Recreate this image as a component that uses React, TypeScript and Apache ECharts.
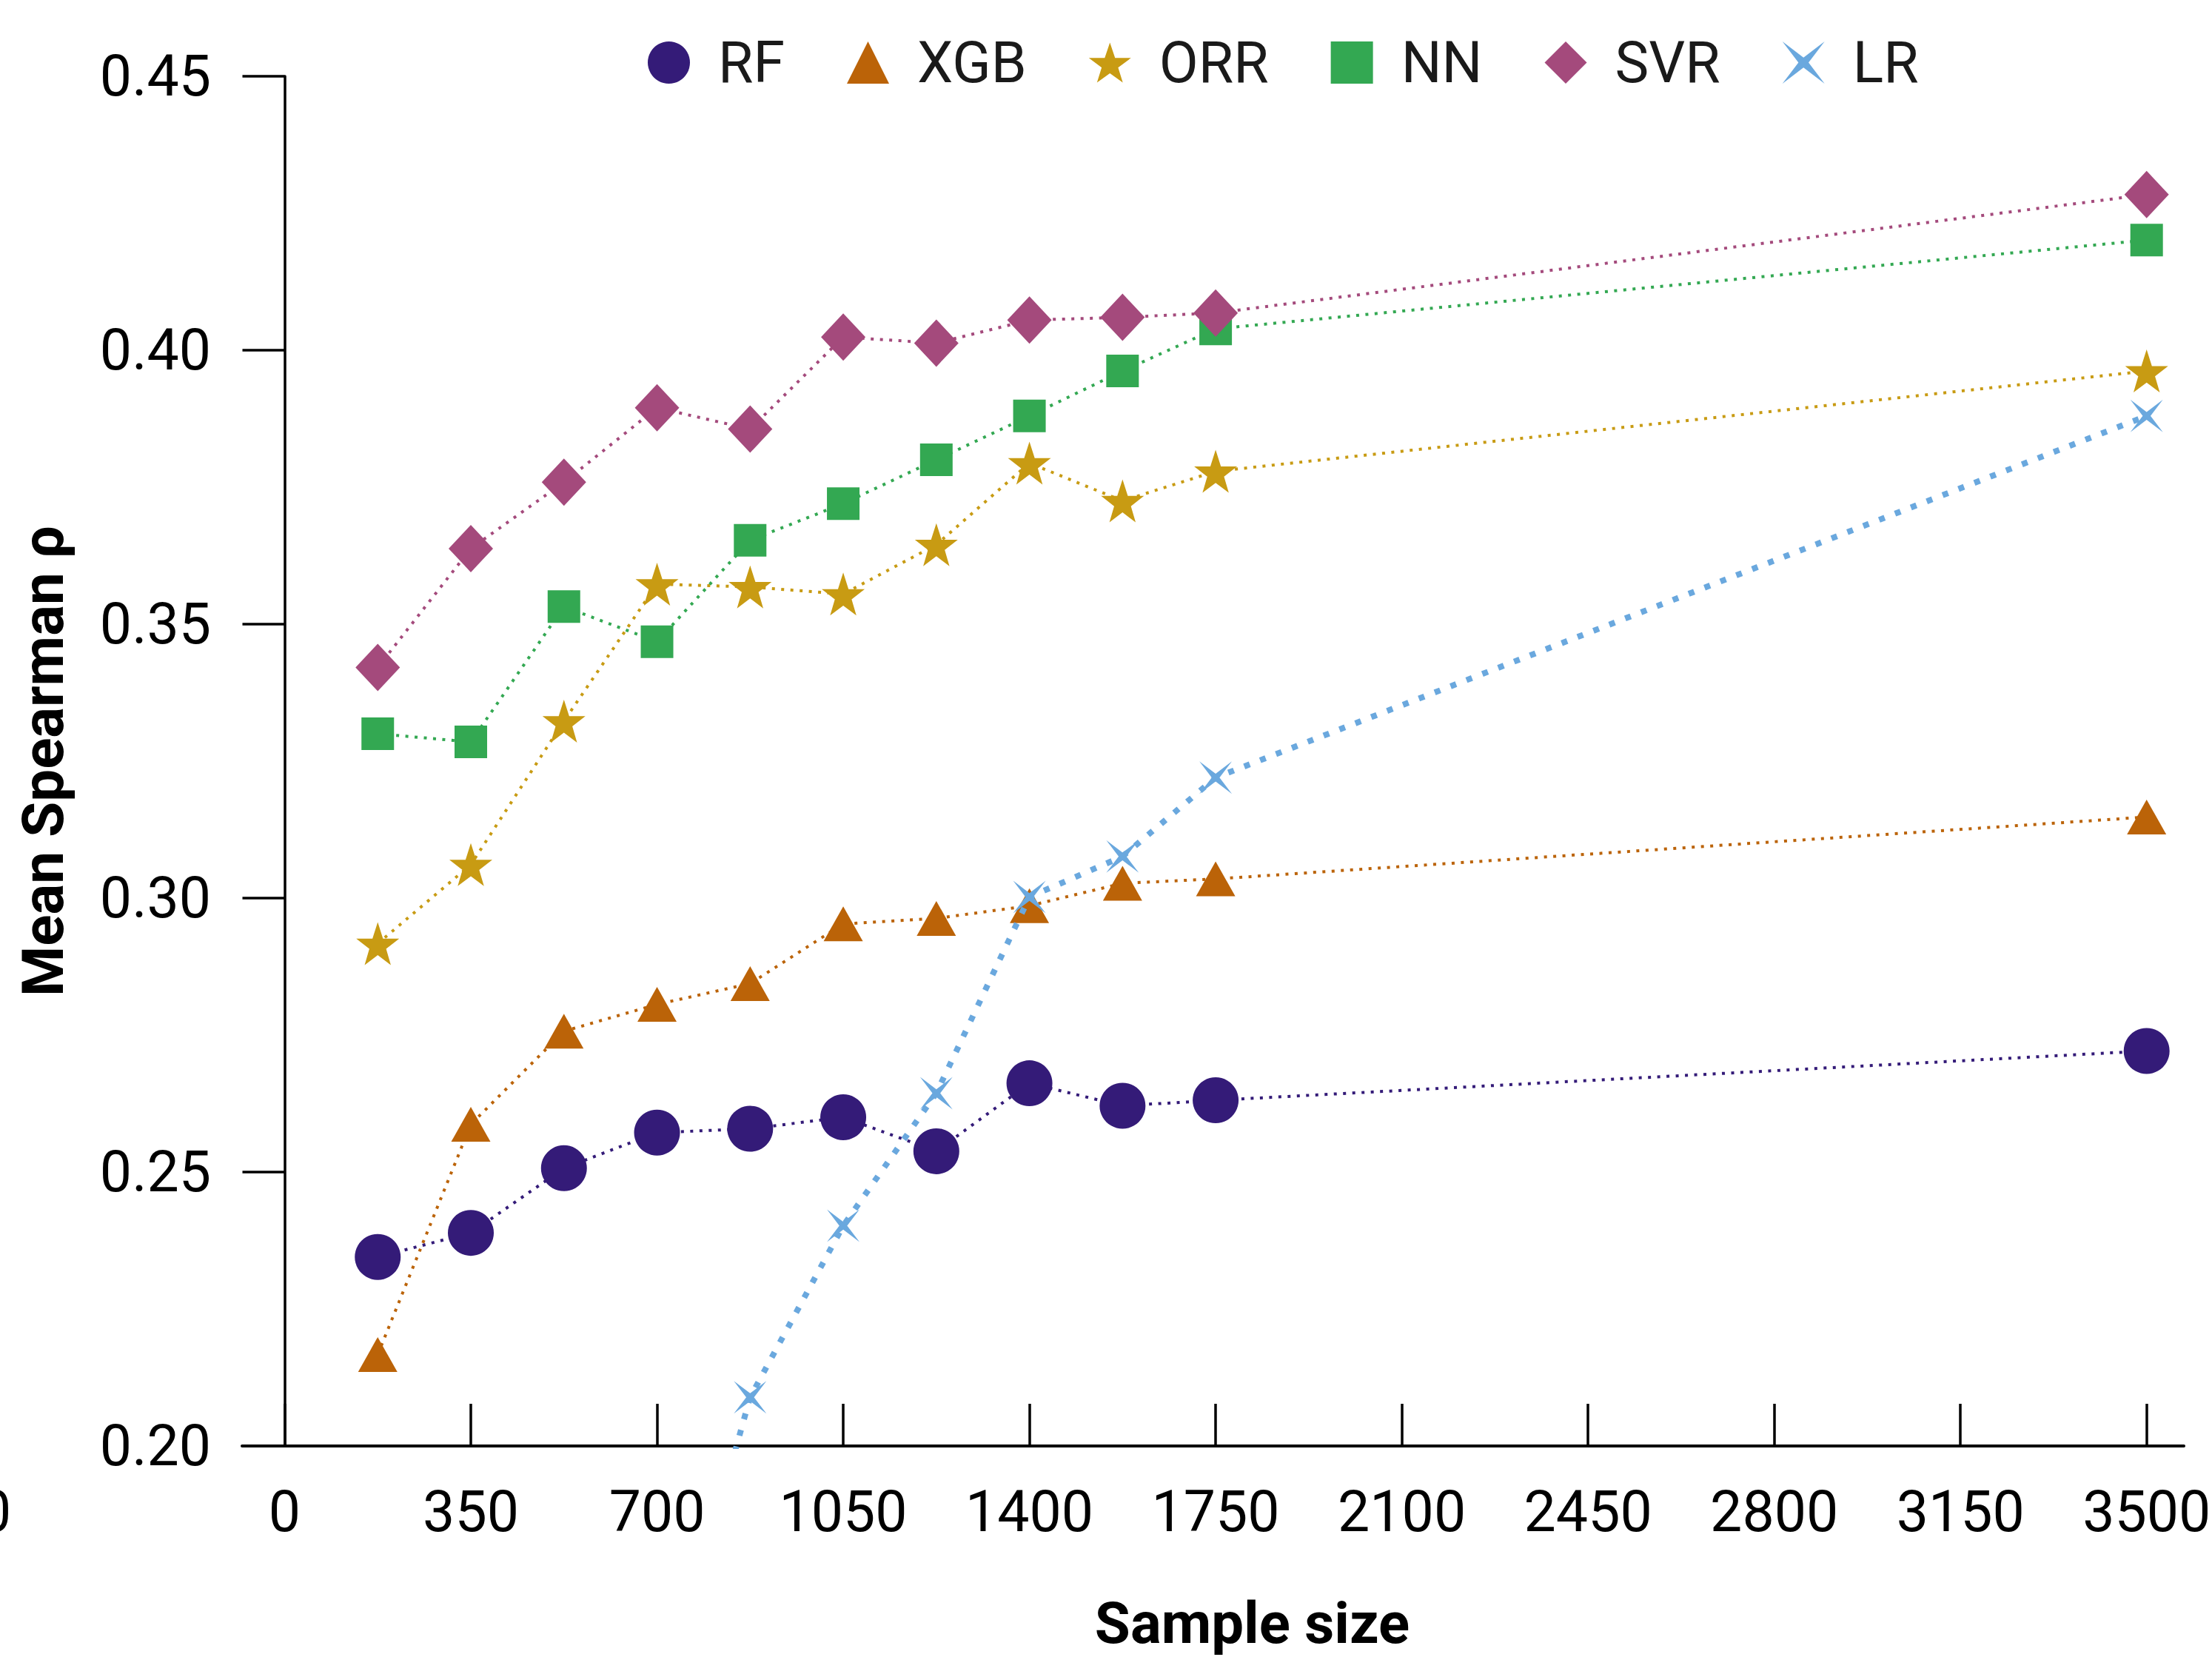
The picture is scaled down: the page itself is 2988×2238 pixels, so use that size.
import React, { useEffect, useRef } from "react";
import * as echarts from "echarts";

const sampleSizes = [175, 350, 525, 700, 875, 1050, 1225, 1400, 1575, 1750, 3500];
const rfValues = [0.2345, 0.2389, 0.2507, 0.2572, 0.2579, 0.26, 0.2538, 0.2662, 0.2621, 0.2631, 0.2721];
const xgbValues = [0.2167, 0.2587, 0.2757, 0.2806, 0.2844, 0.2953, 0.2963, 0.2986, 0.3027, 0.3035, 0.3148];
const orrValues = [0.2917, 0.3061, 0.3323, 0.3573, 0.3568, 0.3555, 0.3645, 0.3794, 0.3725, 0.3779, 0.3962];
const nnValues = [0.33, 0.3285, 0.3532, 0.3468, 0.3653, 0.372, 0.38, 0.388, 0.3962, 0.4039, 0.4201];
const svrValues = [0.3421, 0.3638, 0.3759, 0.3895, 0.3856, 0.4024, 0.4013, 0.4055, 0.406, 0.4068, 0.4284];
const lrValues = [null, null, null, 0.148, 0.2089, 0.2402, 0.2644, 0.3002, 0.3076, 0.322, 0.388];

const seriesNames = ["RF", "XGB", "ORR", "NN", "SVR", "LR"];
const xTickValues = [0, 350, 700, 1050, 1400, 1750, 2100, 2450, 2800, 3150, 3500];

const STAR = "path://M50,0 L61.8,35.1 L98.1,35.1 L68.8,56.7 L79.4,91 L50,70 L20.6,91 L31.2,56.7 L1.9,35.1 L38.2,35.1 Z";
const CROSS = "path://M0,0 L50,38 L100,0 L62,50 L100,100 L50,62 L0,100 L38,50 Z";

const FONT = "Roboto, 'Noto Sans', sans-serif";

export default function App() {
  const ref = useRef<HTMLDivElement>(null);

  useEffect(() => {
    if (!ref.current) return;
    const chart = echarts.init(ref.current, undefined, { renderer: "svg" });

    const pair = (vals: (number | null)[]) =>
      sampleSizes.map((x, i) => [x, vals[i] === null ? null : vals[i]]);

    const styles = [
      { vals: rfValues, color: "#341b78", symbol: "circle", size: 62, lw: 4, dash: [4, 8.5] },
      { vals: xgbValues, color: "#bb6308", symbol: "triangle", size: [53, 47], lw: 4, dash: [4, 8.5] },
      { vals: orrValues, color: "#c89b13", symbol: STAR, size: 58, lw: 4, dash: [4, 8.5] },
      { vals: nnValues, color: "#33a852", symbol: "rect", size: 44, lw: 4, dash: [4, 8.5] },
      { vals: svrValues, color: "#a44a7c", symbol: "diamond", size: [60, 64], lw: 4, dash: [4, 8.5] },
      { vals: lrValues, color: "#6aa8de", symbol: CROSS, size: 44, lw: 8, dash: [8, 15] },
    ];

    const legendIcons = ["circle", "triangle", STAR, "rect", "diamond", CROSS];

    chart.setOption({
      animation: false,
      backgroundColor: "#ffffff",
      grid: { left: 327, right: 38, top: 103, bottom: 285, containLabel: false, outerBoundsMode: "none" },
      legend: {
        left: 875,
        top: 46,
        padding: 0,
        itemWidth: 57,
        itemHeight: 57,
        itemGap: 84,
        data: seriesNames.map((n, i) => ({ name: n, icon: legendIcons[i] })),
        textStyle: { fontSize: 77, fontFamily: FONT, color: "#1a1a1a", padding: [0, 0, 0, 33] },
      },
      xAxis: {
        type: "value",
        min: -80,
        max: 3570,
        name: "Sample size",
        nameLocation: "middle",
        nameGap: 200,
        nameTextStyle: { fontSize: 78, fontWeight: "bold", fontFamily: FONT, color: "#000", padding: [0, 0, 0, 106] },
        axisLine: { show: true, onZero: false, lineStyle: { color: "#000", width: 4 } },
        axisTick: { show: true, inside: true, length: 57, customValues: xTickValues, lineStyle: { color: "#000", width: 3.5 } },
        axisLabel: {
          customValues: xTickValues,
          margin: 50,
          fontSize: 77,
          fontFamily: FONT,
          color: "#000",
          formatter: (v: number) => String(v),
        },
        splitLine: { show: false },
      },
      yAxis: {
        type: "value",
        min: 0.2,
        max: 0.45,
        interval: 0.05,
        name: "Mean Spearman ρ",
        nameLocation: "middle",
        nameGap: 230,
        nameTextStyle: { fontSize: 78, fontWeight: "bold", fontFamily: FONT, color: "#000" },
        axisLine: { show: true, onZero: true, lineStyle: { color: "#000", width: 3.5 } },
        axisTick: { show: true, length: 57, lineStyle: { color: "#000", width: 3.5 } },
        axisLabel: { margin: 42, fontSize: 77, fontFamily: FONT, color: "#000", formatter: (v: number) => v.toFixed(2) },
        splitLine: { show: false },
      },
      graphic: [
        {
          type: "text",
          left: -28,
          top: 2003,
          style: { text: "0", fontSize: 77, fontFamily: FONT, fill: "#000" },
          silent: true,
        },
      ],
      series: styles.map((s, i) => ({
        name: seriesNames[i],
        type: "line",
        data: pair(s.vals),
        symbol: s.symbol,
        symbolSize: s.size,
        showSymbol: true,
        connectNulls: false,
        clip: true,
        itemStyle: { color: s.color },
        lineStyle: { color: s.color, width: s.lw, type: s.dash },
        z: 2 + i,
      })),
    });

    return () => chart.dispose();
  }, []);

  return (
    <div
      ref={ref}
      style={{ position: "absolute", left: 0, top: 0, width: 2988, height: 2238, background: "#fff" }}
    />
  );
}
